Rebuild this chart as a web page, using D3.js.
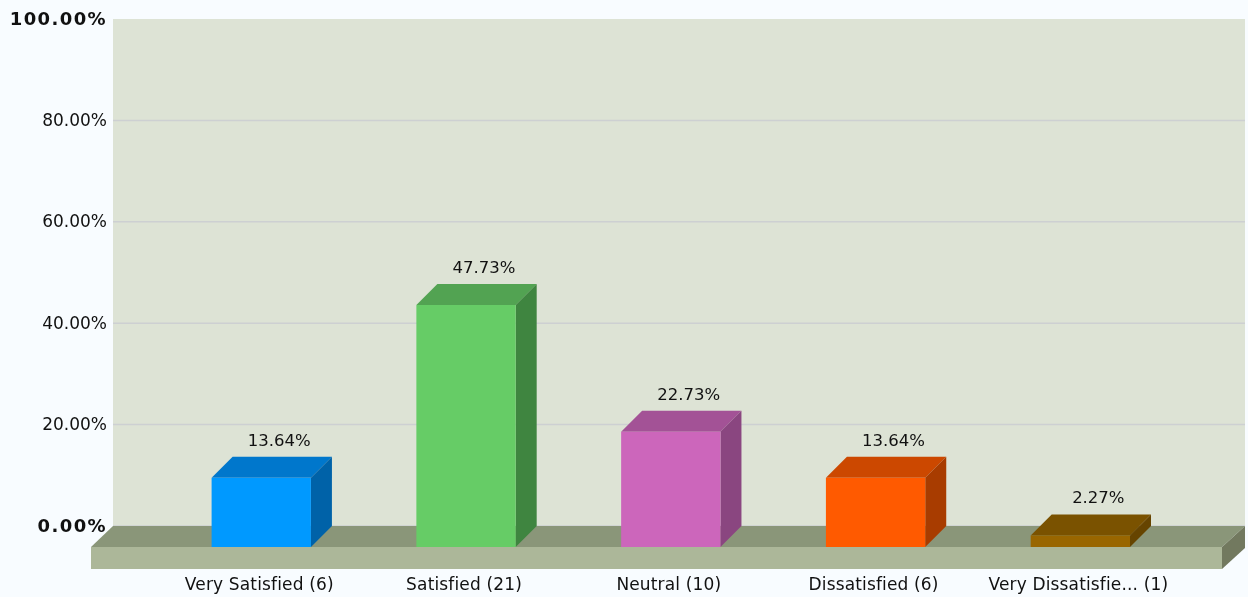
<!DOCTYPE html>
<html>
<head>
<meta charset="utf-8">
<script src="https://cdn.jsdelivr.net/npm/d3@7"></script>
<style>
  html, body { margin: 0; padding: 0; background: #f8fcff; overflow: hidden; }
  svg { display: block; filter: blur(0.4px); }
  text { font-family: "DejaVu Sans", sans-serif; fill: #111; }
</style>
</head>
<body>
<div id="chart"></div>
<script>
// values
const categories = ['Very Satisfied', 'Satisfied', 'Neutral', 'Dissatisfied', 'Very Dissatisfie...'];
const counts = [6, 21, 10, 6, 1];
const percents = [13.64, 47.73, 22.73, 13.64, 2.27];
const yTicks = [0, 20, 40, 60, 80, 100];

const frontColors = ['#0099ff', '#66cc66', '#cc66bb', '#ff5a00', '#996600'];
const topColors = ['#0077cc', '#52a352', '#a35296', '#cc4800', '#7a5200'];
const sideColors = ['#0062a8', '#3f8540', '#8a4680', '#a83c00', '#664400'];

const width = 1248;
const height = 597;
const depth = 21;
const wall = {left: 113, right: 1245};
const floorLeft = 91, floorRight = 1222, floorBottom = 569;

const x = d3.scaleBand()
  .domain(categories)
  .range([211.6, 1130])
  .paddingInner(0.515)
  .paddingOuter(0);

const y = d3.scaleLinear().domain([0, 100]).range([547, 40]);

const svg = d3.select('#chart').append('svg').attr('width', width).attr('height', height);

const poly = (pts, fill) => svg.append('polygon')
  .attr('points', pts.map(p => p.join(',')).join(' '))
  .attr('fill', fill);

// back wall
svg.append('rect')
  .attr('x', wall.left)
  .attr('y', y(100) - depth)
  .attr('width', wall.right - wall.left)
  .attr('height', y(0) - y(100))
  .attr('fill', '#dde3d5');

// grid lines sit on the back wall, no line along the top edge
const grid = svg.append('g')
  .attr('transform', `translate(${wall.left}, ${-depth})`)
  .call(d3.axisRight(y).tickValues(yTicks.filter(d => d < 100)).tickSize(wall.right - wall.left).tickFormat('').offset(0));
grid.select('.domain').remove();
grid.selectAll('line').attr('stroke', '#cdd0d2').attr('stroke-width', 1.5);

// floor slab
poly([[floorLeft, y(0)], [wall.left, y(0) - depth], [wall.right, y(0) - depth], [floorRight, y(0)]], '#8a9679');
poly([[floorRight, y(0)], [wall.right, y(0) - depth], [wall.right, floorBottom - depth], [floorRight, floorBottom]], '#72795f');
svg.append('rect')
  .attr('x', floorLeft)
  .attr('y', y(0))
  .attr('width', floorRight - floorLeft)
  .attr('height', floorBottom - y(0))
  .attr('fill', '#acb799');

// bars
percents.forEach((p, i) => {
  const x0 = x(categories[i]);
  const x1 = x0 + x.bandwidth();
  const top = y(p);
  poly([[x0, top], [x0 + depth, top - depth], [x1 + depth, top - depth], [x1, top]], topColors[i]);
  poly([[x1, top], [x1 + depth, top - depth], [x1 + depth, y(0) - depth], [x1, y(0)]], sideColors[i]);
  svg.append('rect')
    .attr('x', x0)
    .attr('y', top)
    .attr('width', x.bandwidth())
    .attr('height', y(0) - top)
    .attr('fill', frontColors[i]);
  svg.append('text')
    .attr('x', x0 + x.bandwidth() / 2 + 18)
    .attr('y', top - depth - 11)
    .attr('text-anchor', 'middle')
    .attr('font-size', 16.5)
    .text(p.toFixed(2) + '%');
});

// y labels, first and last are bold and wide in the original
const yAxis = svg.append('g')
  .attr('transform', `translate(${wall.left}, ${-depth})`)
  .call(d3.axisLeft(y).tickValues(yTicks).tickSize(0).tickPadding(6).offset(0).tickFormat(d => d.toFixed(2) + '%'));
yAxis.select('.domain').remove();
yAxis.selectAll('text')
  .attr('font-size', d => (d === 0 || d === 100) ? 18 : 17)
  .style('font-family', '"DejaVu Sans", sans-serif')
  .style('font-weight', d => (d === 0 || d === 100) ? 'bold' : 'normal')
  .style('letter-spacing', d => (d === 0 || d === 100) ? '1.4px' : '0');

// x labels
const xAxis = svg.append('g')
  .attr('transform', `translate(-2, ${floorBottom})`)
  .call(d3.axisBottom(x).tickSize(0).tickPadding(9).offset(0).tickFormat((d, i) => `${d} (${counts[i]})`));
xAxis.select('.domain').remove();
xAxis.selectAll('text')
  .attr('font-size', 17)
  .style('font-family', '"DejaVu Sans", sans-serif')
  .style('letter-spacing', '0.15px');
</script>
</body>
</html>
